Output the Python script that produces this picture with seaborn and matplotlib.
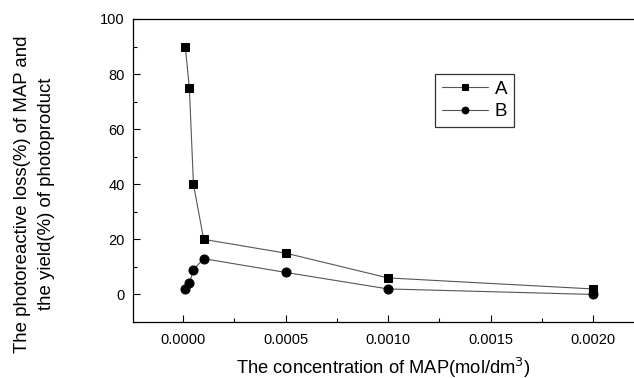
import matplotlib
matplotlib.use("Agg")
import matplotlib.pyplot as plt
import seaborn as sns
import pandas as pd
from matplotlib.ticker import MultipleLocator

conc_A = [0.00001, 0.00003, 0.00005, 0.0001, 0.0005, 0.0010, 0.0020]
vals_A = [90, 75, 40, 20, 15, 6, 2]
conc_B = [0.00001, 0.00003, 0.00005, 0.0001, 0.0005, 0.0010, 0.0020]
vals_B = [2, 4, 9, 13, 8, 2, 0]
xticks = [0.0, 0.0005, 0.0010, 0.0015, 0.0020]
xticklabels = ["0.0000", "0.0005", "0.0010", "0.0015", "0.0020"]
yticks = [0, 20, 40, 60, 80, 100]
ylabel_lines = ["The photoreactive loss(%) of MAP and", "the yield(%) of photoproduct"]

sns.set_style("white")
plt.rcParams['font.family'] = ['Liberation Sans', 'DejaVu Sans']
plt.rcParams['text.color'] = 'black'
plt.rcParams['axes.labelcolor'] = 'black'
plt.rcParams['xtick.color'] = 'black'
plt.rcParams['ytick.color'] = 'black'

fig = plt.figure(figsize=(6.34, 3.78), dpi=100)
ax = fig.add_axes([133/634, 56/378, 1 - 133/634, (322-19)/378])

dfA = pd.DataFrame({"x": conc_A, "y": vals_A})
dfB = pd.DataFrame({"x": conc_B, "y": vals_B})
sns.lineplot(data=dfA, x="x", y="y", ax=ax, color="#555555", lw=0.8,
             marker="s", markersize=6, markerfacecolor="black",
             markeredgecolor="black", label="A")
sns.lineplot(data=dfB, x="x", y="y", ax=ax, color="#555555", lw=0.8,
             marker="o", markersize=6.5, markerfacecolor="black",
             markeredgecolor="black", label="B")

ax.set_xlim(-0.000245, 0.0022)
ax.set_ylim(-10, 100)
ax.set_xticks(xticks)
ax.set_xticklabels(xticklabels)
ax.set_yticks(yticks)
ax.xaxis.set_minor_locator(MultipleLocator(0.00025))
ax.yaxis.set_minor_locator(MultipleLocator(10))
ax.tick_params(which="both", direction="in", labelsize=10.5, color="black",
               bottom=True, left=True, top=False, right=False)
ax.tick_params(which="major", length=5, width=0.8)
ax.tick_params(which="minor", length=3, width=0.8)
ax.tick_params(axis="x", pad=8)
ax.tick_params(axis="y", pad=6)
for s in ["left", "bottom", "top"]:
    ax.spines[s].set_color("black")
    ax.spines[s].set_linewidth(0.9)
ax.spines["right"].set_visible(False)

ax.set_xlabel("The concentration of MAP(mol/dm$^3$)", fontsize=13.2, labelpad=6)
ax.set_ylabel("")
fig.text(27/634, 1 - 194/378, ylabel_lines[0], rotation=90, rotation_mode="anchor",
         ha="center", va="baseline", fontsize=13.4)
fig.text(51/634, 1 - 194/378, ylabel_lines[1], rotation=90, rotation_mode="anchor",
         ha="center", va="baseline", fontsize=13.4)

leg = ax.legend(loc="upper left", bbox_to_anchor=((435-133)/501, (322-74)/303),
                borderaxespad=0, fontsize=13.5, frameon=True, fancybox=False,
                edgecolor="black", handlelength=2.5, markerscale=0.75,
                borderpad=0.35, labelspacing=0.3, handletextpad=0.35)
leg.get_frame().set_linewidth(0.9)

fig.savefig("out.png", dpi=100)
